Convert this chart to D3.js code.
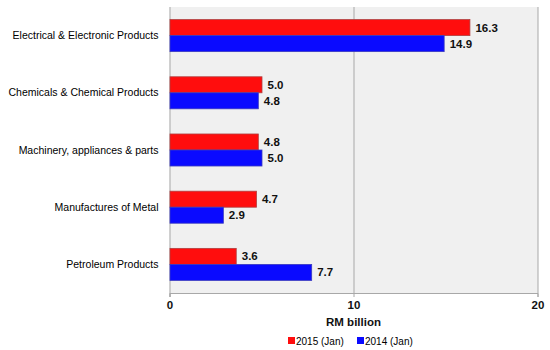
<!DOCTYPE html>
<html>
<head>
<meta charset="utf-8">
<script src="https://cdn.jsdelivr.net/npm/d3@7"></script>
<style>
  body{margin:0;background:#fff;}
  svg{display:block;font-family:"Liberation Sans",Arial,sans-serif;}
</style>
</head>
<body>
<div id="chart"></div>
<script>
// Exports by product, RM billion
var categories=["Electrical & Electronic Products","Chemicals & Chemical Products","Machinery, appliances & parts","Manufactures of Metal","Petroleum Products"];
var series=["2015 (Jan)","2014 (Jan)"];
var values2015=[16.3,5.0,4.8,4.7,3.6];
var values2014=[14.9,4.8,5.0,2.9,7.7];
var xTicks=[0,10,20];

var colors={"2015 (Jan)":"#ff0d0d","2014 (Jan)":"#0a0aff"};
var strokes={"2015 (Jan)":"#b04040","2014 (Jan)":"#3a3ac0"};

var W=550,H=350;
var m={top:7,right:12,bottom:57,left:169.5};
var width=W-m.left-m.right, height=H-m.top-m.bottom;

var svg=d3.select("#chart").append("svg").attr("width",W).attr("height",H);
var g=svg.append("g").attr("transform","translate("+m.left+","+m.top+")");

var rows=categories.map(function(c,i){return {cat:c,"2015 (Jan)":values2015[i],"2014 (Jan)":values2014[i]};});

var x=d3.scaleLinear().domain([0,20]).range([0,width-0.5]);
var y0=d3.scaleBand().domain(categories).range([0,height]).paddingInner(0.44).paddingOuter(0.22);
var y1=d3.scaleBand().domain(series).range([0,y0.bandwidth()]);

// plot background
g.append("rect").attr("width",width).attr("height",height).attr("fill","#f0f0f0");

// gridlines
g.selectAll("line.grid").data(xTicks.slice(1)).enter().append("line")
  .attr("x1",function(d){return Math.round(x(d))+0.5;}).attr("x2",function(d){return Math.round(x(d))+0.5;})
  .attr("y1",0).attr("y2",height).attr("stroke","#a8a8a8").attr("stroke-width",1);

// left axis line
g.append("line").attr("x1",0.5).attr("x2",0.5).attr("y1",0).attr("y2",height+4)
  .attr("stroke","#a8a8a8");

var groups=g.selectAll("g.cat").data(rows).enter().append("g")
  .attr("transform",function(d){return "translate(0,"+y0(d.cat)+")";});

groups.selectAll("rect").data(function(d){return series.map(function(s){return {key:s,value:d[s]};});})
  .enter().append("rect")
  .attr("x",0.5).attr("y",function(d){return y1(d.key);})
  .attr("width",function(d){return x(d.value);}).attr("height",y1.bandwidth())
  .attr("fill",function(d){return colors[d.key];})
  .attr("stroke",function(d){return strokes[d.key];}).attr("stroke-width",0.8);

groups.selectAll("text.val").data(function(d){return series.map(function(s){return {key:s,value:d[s]};});})
  .enter().append("text")
  .attr("x",function(d){return x(d.value)+6;}).attr("y",function(d){return y1(d.key)+y1.bandwidth()/2;})
  .attr("dy","0.35em").attr("font-size","11.5px").attr("font-weight","bold").attr("fill","#111")
  .text(function(d){return d3.format(".1f")(d.value);});

// category labels
g.selectAll("text.cat").data(categories).enter().append("text")
  .attr("x",-11).attr("y",function(d){return y0(d)+y0.bandwidth()/2;})
  .attr("dy","0.35em").attr("text-anchor","end").attr("font-size","10.5px").attr("fill","#000")
  .text(function(d){return d;});

// bottom axis
var xAxis=g.append("g").attr("transform","translate(0,"+height+")")
  .call(d3.axisBottom(x).tickValues(xTicks).tickSize(4).tickPadding(4));
xAxis.select(".domain").attr("stroke","#a8a8a8");
xAxis.selectAll(".tick line").attr("stroke","#a8a8a8");
xAxis.selectAll("text").attr("font-size","11.5px").attr("font-weight","bold").attr("fill","#111")
  .attr("font-family","Liberation Sans, Arial, sans-serif");

// axis title
svg.append("text").attr("x",m.left+x(10)).attr("y",326).attr("text-anchor","middle")
  .attr("font-size","11.5px").attr("font-weight","bold").attr("fill","#111").text("RM billion");

// legend
var lg=svg.append("g").attr("transform","translate(288,341)");
var lx=0;
series.forEach(function(s){
  var it=lg.append("g").attr("transform","translate("+lx+",0)");
  it.append("rect").attr("x",0).attr("y",-4).attr("width",7).attr("height",7).attr("fill",colors[s]);
  it.append("text").attr("x",8).attr("y",0).attr("dy","0.35em").attr("font-size","10px").attr("fill","#000").text(s);
  lx+=69;
});
</script>
</body>
</html>
